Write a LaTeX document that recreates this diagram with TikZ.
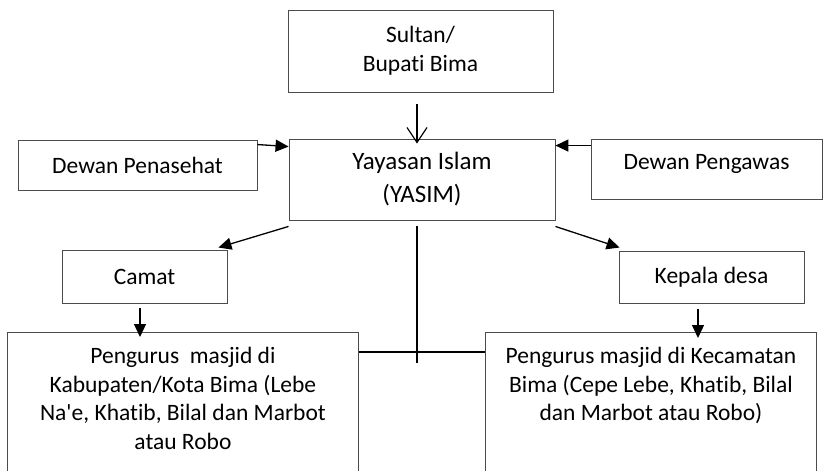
\documentclass[tikz,border=0pt]{standalone}
\usepackage{fontspec}
\setmainfont{Carlito}[Ligatures={NoCommon}]
\usetikzlibrary{arrows.meta,calc}
\begin{document}
\begin{tikzpicture}[x=1pt,y=-1pt,
  box/.style={draw=black!70,line width=0.9pt,inner sep=0pt,align=center,
    font=\fontsize{23.5}{29}\selectfont},
  conn/.style={line width=1.3pt,-{Triangle[length=13pt,width=12pt]}},
  openconn/.style={line width=1.2pt,-{Straight Barb[length=15pt,width=20pt]}},
  plain/.style={line width=1.3pt}]
\useasboundingbox (0,0) rectangle (823,471);
\clip (0,0) rectangle (823,471);
\fill[white] (0,0) rectangle (823,471);

\node[box,minimum width=265pt,minimum height=82pt] (sultan) at (420.5,51)
  {Sultan/\\[0pt]Bupati Bima};
\node[box,minimum width=266pt,minimum height=81pt,
  font=\fontsize{25}{33}\selectfont] (yasim) at (422,179.5)
  {Yayasan Islam\\(YASIM)};
\node[box,minimum width=239pt,minimum height=50pt] (penasehat) at (137.5,165)
  {Dewan Penasehat};
\node[box,minimum width=231pt,minimum height=60pt,text height=16pt,text depth=15pt]
  (pengawas) at (706.5,169) {Dewan Pengawas};
\node[box,minimum width=165pt,minimum height=53pt] (camat) at (144.5,276.5)
  {Camat};
\node[box,minimum width=185pt,minimum height=52pt] (kepala) at (711.5,277)
  {Kepala desa};

\node[box,anchor=north west,minimum width=351pt,inner ysep=15pt] (bl) at (7,332)
  {\parbox[t][140pt][t]{345pt}{\centering\fontsize{23.5}{28.5}\selectfont
   Pengurus\ \ masjid di\\Kabupaten/Kota Bima (Lebe\\Na\textquotesingle e, Khatib, Bilal dan Marbot\\atau Robo}};
\node[box,anchor=north west,minimum width=331pt,inner ysep=15pt] (br) at (485,332)
  {\parbox[t][140pt][t]{325pt}{\centering\fontsize{23.5}{28.5}\selectfont
   Pengurus masjid di Kecamatan\\Bima (Cepe Lebe, Khatib, Bilal\\dan Marbot atau Robo)}};

\coordinate (vend) at (417,357);

\draw[openconn] ([xshift=-3.5pt,yshift=-12pt]sultan.south)
  -- ([xshift=-3.5pt,yshift=-5pt]sultan.south |- yasim.north);
\draw[conn] ([yshift=-5pt]penasehat.north east) -- ([yshift=-8pt]yasim.north west);
\draw[conn] ([yshift=-7pt]pengawas.north west) -- ([yshift=-7pt]pengawas.north west -| yasim.east);
\draw[conn] ([yshift=-6pt]yasim.south west) -- ([xshift=-9pt,yshift=2pt]camat.north east);
\draw[conn] ([yshift=-6pt]yasim.south east) -- ([xshift=1pt,yshift=3pt]kepala.north west);
\draw[conn] ([xshift=-4.5pt,yshift=-5pt]camat.south) -- ([xshift=-4.5pt,yshift=-5pt]camat.south |- bl.north);
\draw[conn] ([xshift=-13.5pt,yshift=-6pt]kepala.south) -- ([xshift=-13.5pt,yshift=-6pt]kepala.south |- br.north);
\draw[plain] ([xshift=-5pt,yshift=-6pt]yasim.south) -- ([xshift=-5pt,yshift=-6pt]yasim.south |- vend);
\draw[plain] ([yshift=-20pt]bl.north east) -- ([yshift=-20pt]br.north west);
\end{tikzpicture}
\end{document}
